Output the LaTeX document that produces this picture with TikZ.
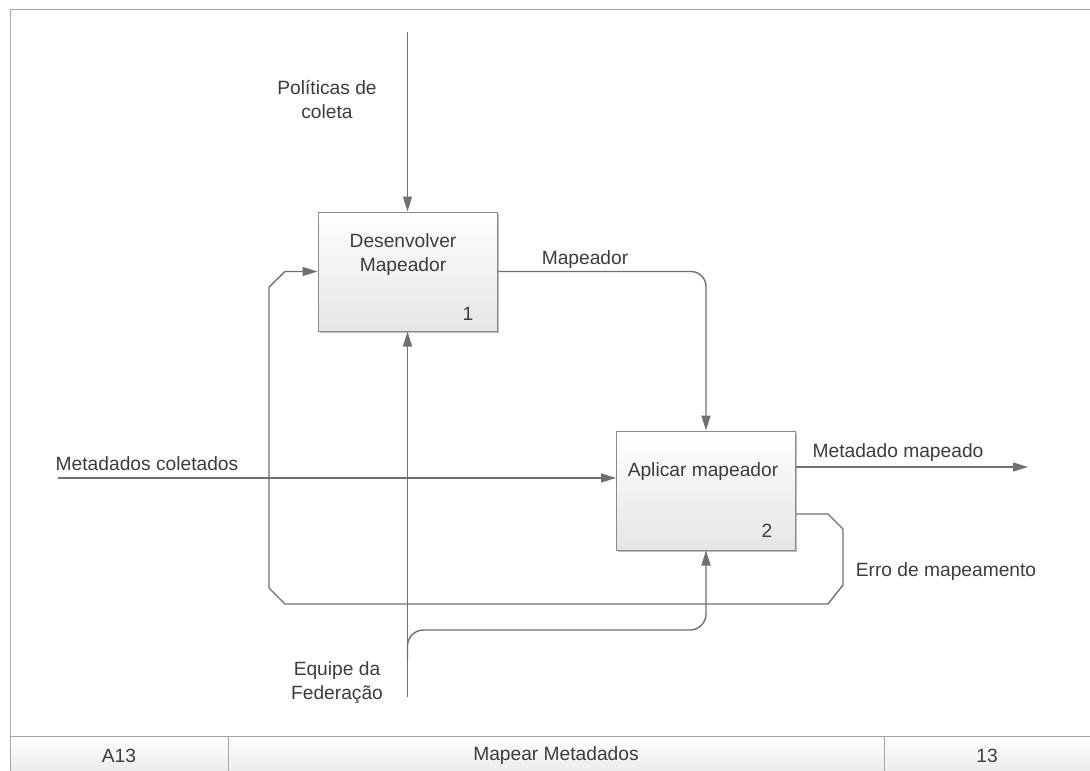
\documentclass[tikz,border=0pt]{standalone}
\usepackage{fontspec}
\setmainfont{Liberation Sans}
\usetikzlibrary{arrows.meta,shadows}
\definecolor{linegray}{HTML}{707070}
\definecolor{framegray}{HTML}{A6A6A6}
\definecolor{txtgray}{HTML}{3C3C3C}
\definecolor{boxedge}{HTML}{8A8A8A}
\begin{document}
\begin{tikzpicture}[x=1pt,y=-1pt,
  every node/.style={text=txtgray,font=\fontsize{19.2}{24}\selectfont},
  activity/.style={draw=boxedge,line width=1pt,top color=white,bottom color=black!10,
    minimum width=179pt,minimum height=119pt,inner sep=0pt,
    drop shadow={shadow xshift=1.5pt,shadow yshift=-1.5pt,opacity=0.25,fill=black}},
  flow/.style={draw=linegray,line width=1.4pt,-{Triangle[length=15pt,width=9pt]}},
  lbl/.style={align=center,inner sep=0pt},
  frame/.style={draw=framegray,line width=1pt},
  barcell/.style={draw=framegray,line width=1pt,top color=white,bottom color=black!8}]
\useasboundingbox (0,0) rectangle (1090,771);

% title bar and sheet frame
\path[barcell] (10,736) rectangle (228,775);
\path[barcell] (228,736) rectangle (884,775);
\path[barcell] (884,736) rectangle (1094,775);
\draw[frame] (10,775) -- (10,9) -- (1094,9);
\node[lbl] (node) at (119,756) {A13};
\node[lbl] (title) at (556,756) {Mapear Metadados};
\node[lbl] (number) at (987,756) {13};

% activities
\node[activity] (box1) at (407.5,271.5) {};
\node[lbl] (box1txt) at (403,255) {Desenvolver\\Mapeador};
\node[lbl] (box1num) at (468,314) {1};
\node[activity] (box2) at (706,490.5) {};
\node[lbl] (box2txt) at (703,472) {Aplicar mapeador};
\node[lbl] (box2num) at (767,531) {2};

% free ends of the arrows
\coordinate (ctlTop) at (407.5,32);
\coordinate (inStart) at (58,478);
\coordinate (outEnd) at (1028,467);
\coordinate (mechBot) at (407.5,697);
\coordinate (mechSplit) at (407.5,660);
\coordinate (errStart) at (796,514);

% control
\draw[flow] (ctlTop) -- (box1.north);
\node[lbl] (ctlLbl) at (327,100) {Políticas de\\coleta};

% input
\draw[flow] (inStart) -- (inStart -| box2.west);
\node[lbl] (inLbl) at (147,464) {Metadados coletados};

% mapper from 1 to 2
\draw[flow,rounded corners=15pt] (box1.east) -| (box2.north);
\node[lbl] (mapLbl) at (585,260) {Mapeador};

% output
\draw[flow] (outEnd -| box2.east) -- (outEnd);
\node[lbl] (outLbl) at (898,453) {Metadado mapeado};

% error feedback to activity 1
\draw[flow] (errStart) -- (828,514) -- (843,529) -- (843,585) -- (828,604)
  -- (285,604) -- (269,588) -- (269,287) -- (285,271.5) -- (box1.west);
\node[lbl] (errLbl) at (946,572) {Erro de mapeamento};

% mechanism
\draw[flow] (mechBot) -- (box1.south);
\draw[flow,rounded corners=16pt] (mechSplit) -- (407.5,630) -- (706,630) -- (box2.south);
\node[lbl] (mechLbl) at (337,683) {Equipe da\\Federação};
\end{tikzpicture}
\end{document}
